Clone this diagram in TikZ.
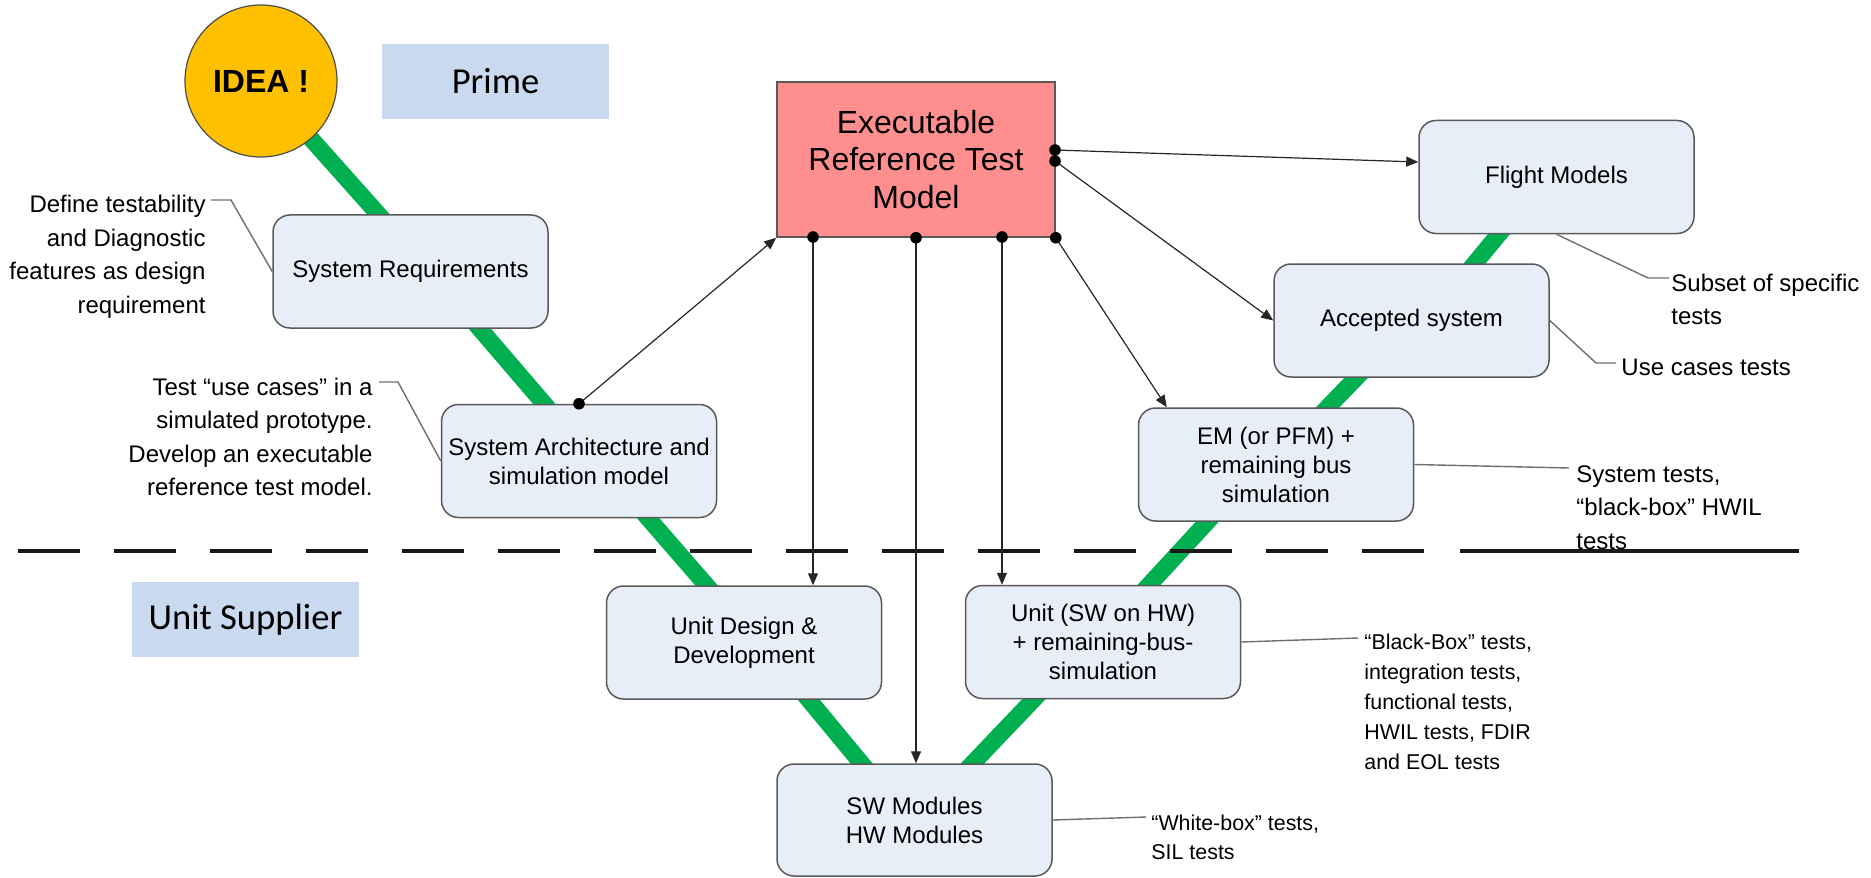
\documentclass[tikz,border=0pt]{standalone}
\usepackage{fontspec}
\setmainfont{Liberation Sans}
\newfontfamily\calibrifont{Carlito}
\usetikzlibrary{arrows.meta,calc,backgrounds}
\definecolor{boxfill}{HTML}{E8EEF8}
\definecolor{boxline}{HTML}{595959}
\definecolor{execfill}{HTML}{FF8F8F}
\definecolor{ideafill}{HTML}{FFC000}
\definecolor{rolefill}{HTML}{C9DAF0}
\definecolor{vgreen}{HTML}{00B050}
\definecolor{calloutgray}{HTML}{6E6E6E}
\begin{document}
\begin{tikzpicture}[x=0.5pt,y=-0.5pt,
  box/.style={draw=boxline,line width=0.75pt,fill=boxfill,rounded corners=8.5pt,minimum width=137.5pt,minimum height=56.5pt,inner sep=0pt,align=center,font=\fontsize{12}{14.5}\selectfont},
  execbox/.style={draw=boxline,line width=0.75pt,fill=execfill,minimum width=139pt,minimum height=77.5pt,inner sep=0pt,align=center,font=\fontsize{16}{18.75}\selectfont},
  ideanode/.style={circle,draw=black!70,line width=0.6pt,fill=ideafill,minimum size=76pt,inner sep=0pt,font=\bfseries\fontsize{16}{19}\selectfont},
  rolebox/.style={fill=rolefill,minimum width=113.5pt,minimum height=37.5pt,inner sep=0pt,font=\calibrifont\fontsize{18.3}{22}\selectfont},
  vline/.style={draw=vgreen,line width=8.5pt,shorten <=-6pt,shorten >=-6pt},
  arr/.style={draw=black!85,line width=0.6pt,-{Triangle[length=6pt,width=5pt]}},
  callout/.style={draw=calloutgray,line width=0.7pt},
  note/.style={inner sep=0pt,font=\fontsize{12}{16.75}\selectfont},
  smallnote/.style={inner sep=0pt,font=\fontsize{10.7}{15}\selectfont},
]
\useasboundingbox (0,0) rectangle (1871,877);

% nodes
\node[ideanode] (idea) at (261,81) {IDEA !};
\node[rolebox] (prime) at (495.5,81.5) {Prime};
\node[rolebox] (unitsup) at (245.5,619.5) {Unit Supplier};
\node[execbox] (exec) at (916,159.5) {Executable\\Reference Test\\Model};
\node[box] (sysreq) at (410.5,271.5) {System Requirements};
\node[box] (sysarch) at (579,461) {System Architecture and\\simulation model};
\node[box] (unitdes) at (744,642.5) {Unit Design \&\\Development};
\node[box,minimum height=56pt] (swmod) at (914.5,820) {SW Modules\\HW Modules};
\node[box] (unitsw) at (1103,642) {Unit (SW on HW)\\+ remaining-bus-\\simulation};
\node[box] (em) at (1276,464.5) {EM (or PFM) +\\remaining bus\\simulation};
\node[box] (accepted) at (1411.5,320.5) {Accepted system};
\node[box] (flight) at (1556.5,177) {Flight Models};

% notes
\node[note,anchor=east,align=right] (n1) at (206,257) {Define testability\\and Diagnostic\\features as design\\requirement};
\node[note,anchor=east,align=right] (n2) at (373,437) {Test “use cases” in a\\simulated prototype.\\Develop an executable\\reference test model.};
\node[note,anchor=west,align=left] (n3) at (1671,299.5) {Subset of specific\\tests};
\node[note,anchor=west,align=left] (n4) at (1621,367) {Use cases tests};
\node[note,anchor=west,align=left] (n5) at (1576,507.5) {System tests,\\“black-box” HWIL\\tests};
\node[smallnote,anchor=west,align=left] (n6) at (1364,702) {“Black-Box” tests,\\integration tests,\\functional tests,\\HWIL tests, FDIR\\and EOL tests};
\node[smallnote,anchor=west,align=left,font=\fontsize{10.7}{14.5}\selectfont] (n7) at (1151,837.5) {“White-box” tests,\\SIL tests};

% green V line segments
\begin{scope}[on background layer]
\draw[vline] (313,141) -- (379,215);
\draw[vline] (480,329) -- (543.5,403);
\draw[vline] (648,518) -- (707,586);
\draw[vline] (809,700) -- (862,764);
\draw[vline] (972,764) -- (1034,699);
\draw[vline] (1149,585) -- (1208,521);
\draw[vline] (1328,407) -- (1356,378);
\draw[vline] (1475,263) -- (1499,234);
\end{scope}

% separator
\draw[line width=2pt,black!90,dash pattern=on 31pt off 17pt] (18,551) -- (1426,551);
\draw[line width=2pt,black!90] (1460,551) -- (1799,551);

% connector points
\coordinate (e1) at (813,237);
\coordinate (e3) at (1002,237);
\coordinate (er1) at (1055,150);
\coordinate (er2) at (1055,161);

% arrows
\draw[arr] (sysarch.north) -- (exec.south west);
\draw[arr] (e1) -- (e1 |- unitdes.north);
\draw[arr] (exec.south) -- (exec.south |- swmod.north);
\draw[arr] (e3) -- (e3 |- unitsw.north);
\draw[arr] (exec.south east) -- ($(em.north west)+(29,0)$);
\draw[arr] (er1) -- ($(flight.west)+(0,-15)$);
\draw[arr] (er2) -- (accepted.west);
\foreach \p in {sysarch.north,e1,exec.south,e3,exec.south east,er1,er2}
  \fill[black] (\p) circle (2.9pt);

% callout lines
\coordinate (c1) at (211,200);
\coordinate (c2) at (379,382);
\coordinate (c3) at (1669,278);
\coordinate (c4) at (1616,363);
\coordinate (c5) at (1569,468);
\coordinate (c6) at (1358,638);
\coordinate (c7) at (1146,817);
\draw[callout] (c1) -- (231,200) -- (sysreq.west);
\draw[callout] (c2) -- (398,382) -- (sysarch.west);
\draw[callout] (flight.south) -- (1648,278) -- (c3);
\draw[callout] (accepted.east) -- (1596,363) -- (c4);
\draw[callout] (em.east) -- (c5);
\draw[callout] (unitsw.east) -- (c6);
\draw[callout] (swmod.east) -- (c7);
\end{tikzpicture}
\end{document}
